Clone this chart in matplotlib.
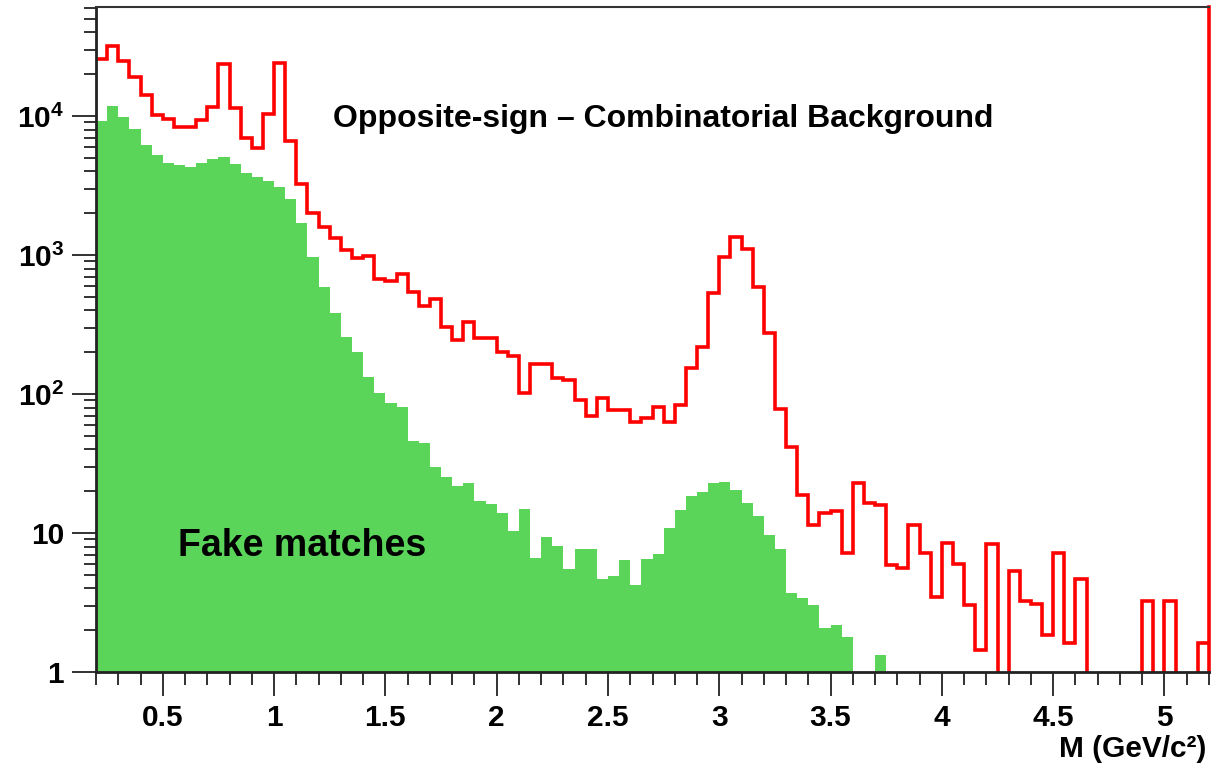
import numpy as np
import matplotlib
matplotlib.use("Agg")
import matplotlib.pyplot as plt
from matplotlib.ticker import MultipleLocator, FixedLocator, LogLocator, NullFormatter, FixedFormatter

# ---------------- data ----------------
x_min = 0.2
bin_width = 0.05
n_bins = 100

# Opposite-sign minus combinatorial background (red outline)
opposite_sign = [
    25700, 32000, 24900, 19200, 14200, 10200, 9500, 8380, 8380, 9400,
    11700, 23900, 11500, 6980, 5910, 10300, 24200, 6610, 3250, 2020,
    1600, 1320, 1090, 946, 990, 672, 655, 735, 541, 432,
    485, 305, 245, 329, 255, 255, 200, 188, 101, 164,
    164, 131, 126, 90, 69, 93, 77, 77, 63, 67,
    81, 62.5, 84, 153, 219, 536, 972, 1354, 1105, 586,
    276, 78, 41.8, 18.9, 11.4, 13.9, 14.5, 7.2, 23, 16.4,
    16, 5.9, 5.57, 11.4, 7.2, 3.48, 8.43, 5.96, 3.03, 1.44,
    8.3, 0, 5.36, 3.26, 3.08, 1.85, 7.2, 1.62, 4.67, 0,
    0, 0, 0, 0, 3.26, 0, 3.26, 0, 0, 1.62,
]

# Fake matches (green filled)
fake_matches = [
    9200, 11900, 9880, 8020, 6180, 5240, 4570, 4440, 4340, 4630,
    4900, 5100, 4500, 3910, 3660, 3400, 3100, 2530, 1690, 973,
    586, 384, 256, 201, 133, 101, 86, 81, 46, 44.7,
    30.1, 25.5, 21.9, 23, 16.9, 16.2, 14, 10.3, 14.9, 6.65,
    9.44, 8.1, 5.47, 7.7, 7.7, 4.67, 4.91, 6.38, 4.21, 6.5,
    7.1, 10.8, 14.6, 18.5, 19.8, 22.8, 23.4, 20.4, 16.4, 13.3,
    9.7, 7.7, 3.68, 3.39, 3.03, 2.06, 2.18, 1.8, 0, 0,
    1.33, 0, 0, 0, 0, 0, 0, 0, 0, 0,
    0, 0, 0, 0, 0, 0, 0, 0, 0, 0,
    0, 0, 0, 0, 0, 0, 0, 0, 0, 0,
]

x_major_ticks = [0.5, 1, 1.5, 2, 2.5, 3, 3.5, 4, 4.5, 5]
x_major_labels = ["0.5", "1", "1.5", "2", "2.5", "3", "3.5", "4", "4.5", "5"]
y_major_ticks = [1, 10, 100, 1000, 10000]
y_major_labels = ["1", "10", r"$\mathbf{10^{2}}$", r"$\mathbf{10^{3}}$", r"$\mathbf{10^{4}}$"]

title_text = "Opposite-sign \u2013 Combinatorial Background"
fake_text = "Fake matches"
xlabel_text = "M (GeV/c\u00b2)"

# ---------------- style ----------------
plt.rcParams['font.family'] = ['Liberation Sans', 'DejaVu Sans']
plt.rcParams['font.weight'] = 'bold'
plt.rcParams['mathtext.fontset'] = 'custom'
plt.rcParams['mathtext.rm'] = 'Liberation Sans:bold'
plt.rcParams['mathtext.bf'] = 'Liberation Sans:bold'
plt.rcParams['mathtext.it'] = 'Liberation Sans:bold'

GREEN = '#5ad55a'
RED = '#ff0000'

W, H = 1213, 766
fig = plt.figure(figsize=(W / 100, H / 100), dpi=100)
ax_left, ax_right, ax_top, ax_bottom = 96, 1209, 7, 672
ax = fig.add_axes([ax_left / W, 1 - ax_bottom / H, (ax_right - ax_left) / W, (ax_bottom - ax_top) / H])

edges = x_min + bin_width * np.arange(n_bins + 1)
floor = 1e-3
green_vals = np.array(fake_matches, dtype=float)
red_vals = np.array(opposite_sign, dtype=float)
green_plot = np.where(green_vals > 0, green_vals, floor)
red_plot = np.where(red_vals > 0, red_vals, floor)

ax.set_yscale('log')
ax.stairs(green_plot, edges, fill=True, color=GREEN, baseline=floor, lw=0)
ax.stairs(red_plot, edges, color=RED, lw=2.6, baseline=None)

ax.set_xlim(edges[0], edges[-1])
ax.set_ylim(1, 6.1e4)

# ticks
ax.xaxis.set_major_locator(FixedLocator(x_major_ticks))
ax.xaxis.set_major_formatter(FixedFormatter(x_major_labels))
ax.xaxis.set_minor_locator(MultipleLocator(0.1))
ax.yaxis.set_major_locator(FixedLocator(y_major_ticks))
ax.yaxis.set_major_formatter(FixedFormatter(y_major_labels))
ax.yaxis.set_minor_locator(LogLocator(base=10, subs=np.arange(2, 10)))
ax.yaxis.set_minor_formatter(NullFormatter())

ax.tick_params(axis='both', which='major', direction='out', length=17, width=1.3,
               labelsize=21.5, color='#222222')
ax.tick_params(axis='both', which='minor', direction='out', length=9, width=1.3, color='#222222')
ax.tick_params(axis='x', which='major', pad=6)
ax.tick_params(axis='y', which='major', pad=6)
for lab in ax.get_xticklabels() + ax.get_yticklabels():
    lab.set_fontweight('bold')

for side in ['left', 'bottom']:
    ax.spines[side].set_color('#222222')
    ax.spines[side].set_linewidth(2.0)
ax.spines['top'].set_color('#333333')
ax.spines['top'].set_linewidth(1.5)
ax.spines['right'].set_color(RED)
ax.spines['right'].set_linewidth(2.6)

# texts
ax.text((333 - ax_left) / (ax_right - ax_left), (ax_bottom - 119) / (ax_bottom - ax_top), title_text,
        transform=ax.transAxes, ha='left', va='center', fontsize=23, fontweight='bold', color='black')
ax.text((178 - ax_left) / (ax_right - ax_left), (ax_bottom - 546) / (ax_bottom - ax_top), fake_text,
        transform=ax.transAxes, ha='left', va='center', fontsize=27, fontweight='bold', color='black')
fig.text(1206 / W, 1 - 749 / H, xlabel_text, ha='right', va='center', fontsize=21.5, fontweight='bold')

fig.savefig('out.png', dpi=100, facecolor='white')
